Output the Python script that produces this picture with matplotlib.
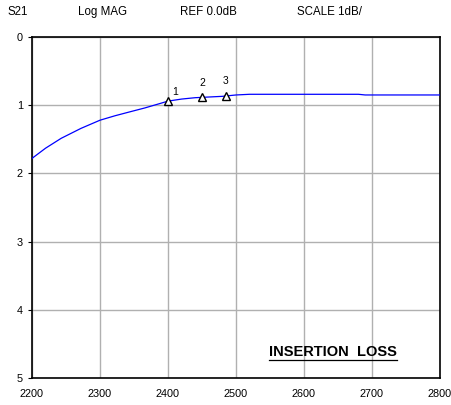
import matplotlib
matplotlib.use("Agg")
import matplotlib.pyplot as plt

plt.rcParams['font.family'] = ['Liberation Sans', 'DejaVu Sans']

freq = [2200, 2220, 2243, 2272, 2300, 2322, 2341, 2366, 2390, 2400, 2420, 2440, 2460,
        2480, 2500, 2520, 2550, 2600, 2650, 2680, 2690, 2700, 2750, 2800]
loss = [1.78, 1.63, 1.485, 1.34, 1.22, 1.155, 1.105, 1.04, 0.97, 0.94, 0.91, 0.89, 0.88,
        0.87, 0.85, 0.84, 0.84, 0.84, 0.84, 0.84, 0.85, 0.85, 0.85, 0.85]

marker_freq = [2400, 2450, 2485]
marker_loss = [0.94, 0.885, 0.865]
marker_labels = ['1', '2', '3']
marker_offsets = [(5, 3), (0, 7), (0, 7)]

xticks = [2200, 2300, 2400, 2500, 2600, 2700, 2800]
yticks = [0, 1, 2, 3, 4, 5]

fig = plt.figure(figsize=(4.52, 4.05), dpi=100)
ax = fig.add_axes([32/452, 1-378/405, 408/452, 341/405])

ax.plot(freq, loss, color='#0000ff', lw=0.9, zorder=3)
ax.plot(marker_freq, marker_loss, linestyle='none', marker='^', markersize=6,
        markerfacecolor='white', markeredgecolor='black', markeredgewidth=1.0, zorder=4)
for f, v, lab, off in zip(marker_freq, marker_loss, marker_labels, marker_offsets):
    ax.annotate(lab, (f, v), xytext=off, textcoords='offset points',
                ha='center', va='bottom', fontsize=7.5)

ax.set_xlim(2200, 2800)
ax.set_ylim(5, 0)
ax.set_xticks(xticks)
ax.set_yticks(yticks)
ax.grid(True, color='#b0b0b0', lw=1.0)
ax.set_axisbelow(True)
ax.tick_params(labelsize=7.8, length=3, width=0.8, direction='out', colors='black')
ax.tick_params(axis='x', length=0, pad=8)
for s in ax.spines.values():
    s.set_linewidth(1.2)
    s.set_color('black')

fig.text(8/452, 1-12/405, 'S21', fontsize=8.3, va='center', ha='left')
fig.text(78/452, 1-12/405, 'Log MAG', fontsize=8.3, va='center', ha='left')
fig.text(180/452, 1-12/405, 'REF 0.0dB', fontsize=8.3, va='center', ha='left')
fig.text(297/452, 1-12/405, 'SCALE 1dB/', fontsize=8.3, va='center', ha='left')

ax.text(2643, 4.62, 'INSERTION  LOSS', fontsize=10.5, fontweight='bold',
        ha='center', va='center')
ax.plot([2548, 2737], [4.73, 4.73], color='black', lw=0.9)

fig.savefig('out.png', dpi=100)
